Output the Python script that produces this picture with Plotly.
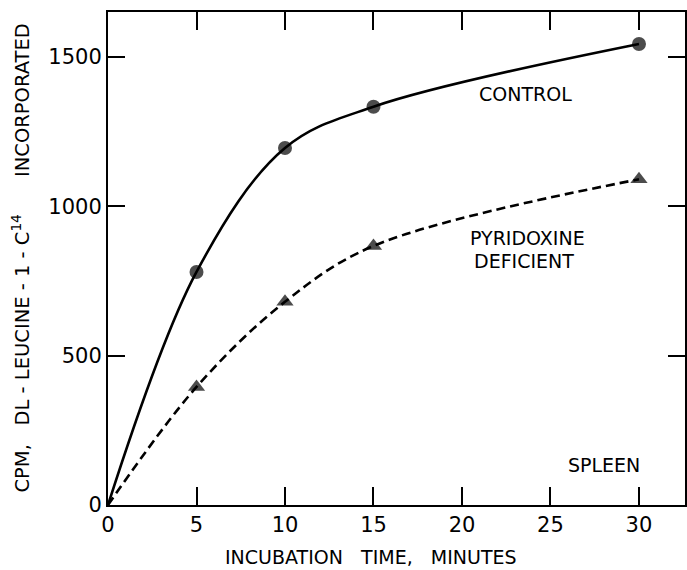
import plotly.graph_objects as go

# Incubation time (minutes) and counts incorporated (CPM)
minutes = [0, 5, 10, 15, 30]
control_cpm = [0, 780, 1195, 1333, 1543]
pyridoxine_cpm = [0, 395, 680, 867, 1090]

x_ticks = [0, 5, 10, 15, 20, 25, 30]
y_ticks = [0, 500, 1000, 1500]

FONT = "DejaVu Sans"
NB = "\u00a0"

fig = go.Figure()

fig.add_trace(go.Scatter(
    x=minutes, y=control_cpm, mode="lines+markers",
    line=dict(color="black", width=2.6, shape="spline", smoothing=1.0),
    marker=dict(symbol="circle", size=[1] + [14] * (len(minutes) - 1),
                color="black", line=dict(width=0)),
    showlegend=False, hoverinfo="skip",
))

fig.add_trace(go.Scatter(
    x=minutes, y=pyridoxine_cpm, mode="lines+markers",
    line=dict(color="black", width=2.6, shape="spline", smoothing=1.0, dash="9px,5px"),
    marker=dict(symbol="triangle-up", size=[1] + [15] * (len(minutes) - 1),
                color="black", line=dict(width=0)),
    showlegend=False, hoverinfo="skip",
))

annot_font = dict(family=FONT, size=19, color="black")
fig.add_annotation(x=23.6, y=1375, text="CONTROL", showarrow=False, font=annot_font)
fig.add_annotation(x=23.7, y=895, text="PYRIDOXINE", showarrow=False, font=annot_font)
fig.add_annotation(x=23.5, y=815, text="DEFICIENT", showarrow=False, font=annot_font)
fig.add_annotation(x=28.0, y=135, text="SPLEEN", showarrow=False, font=annot_font)

# Axis titles placed as annotations in paper space
fig.add_annotation(
    xref="paper", yref="paper", x=0.455, y=0, yshift=-52, yanchor="middle",
    text=f"INCUBATION{NB}{NB}{NB}TIME,{NB}{NB}{NB}MINUTES", showarrow=False,
    font=dict(family=FONT, size=19, color="black"),
)
fig.add_annotation(
    xref="paper", yref="paper", x=0, xshift=-88, y=0.5, xanchor="center",
    textangle=-90, showarrow=False,
    text=(f"CPM,{NB}{NB}{NB}DL{NB}-{NB}LEUCINE{NB}-{NB}1{NB}-{NB}C<sup>14</sup>"
          f"{NB}{NB}{NB}{NB}{NB}{NB}INCORPORATED"),
    font=dict(family=FONT, size=19.5, color="black"),
)

axis_common = dict(
    showgrid=False, zeroline=False, showline=True, linecolor="black", linewidth=2,
    ticks="inside", tickcolor="black", tickwidth=1.5, mirror="ticks",
    tickfont=dict(family=FONT, size=21, color="black"),
)

fig.update_xaxes(range=[0, 32.6], tickvals=x_ticks, ticklen=18, **axis_common)
fig.update_yaxes(range=[0, 1650], tickvals=y_ticks, ticklen=17, **axis_common)

fig.update_layout(
    width=687, height=570,
    margin=dict(l=108, r=0, t=12, b=65),
    paper_bgcolor="white", plot_bgcolor="white",
)

fig.write_html("out.html")
